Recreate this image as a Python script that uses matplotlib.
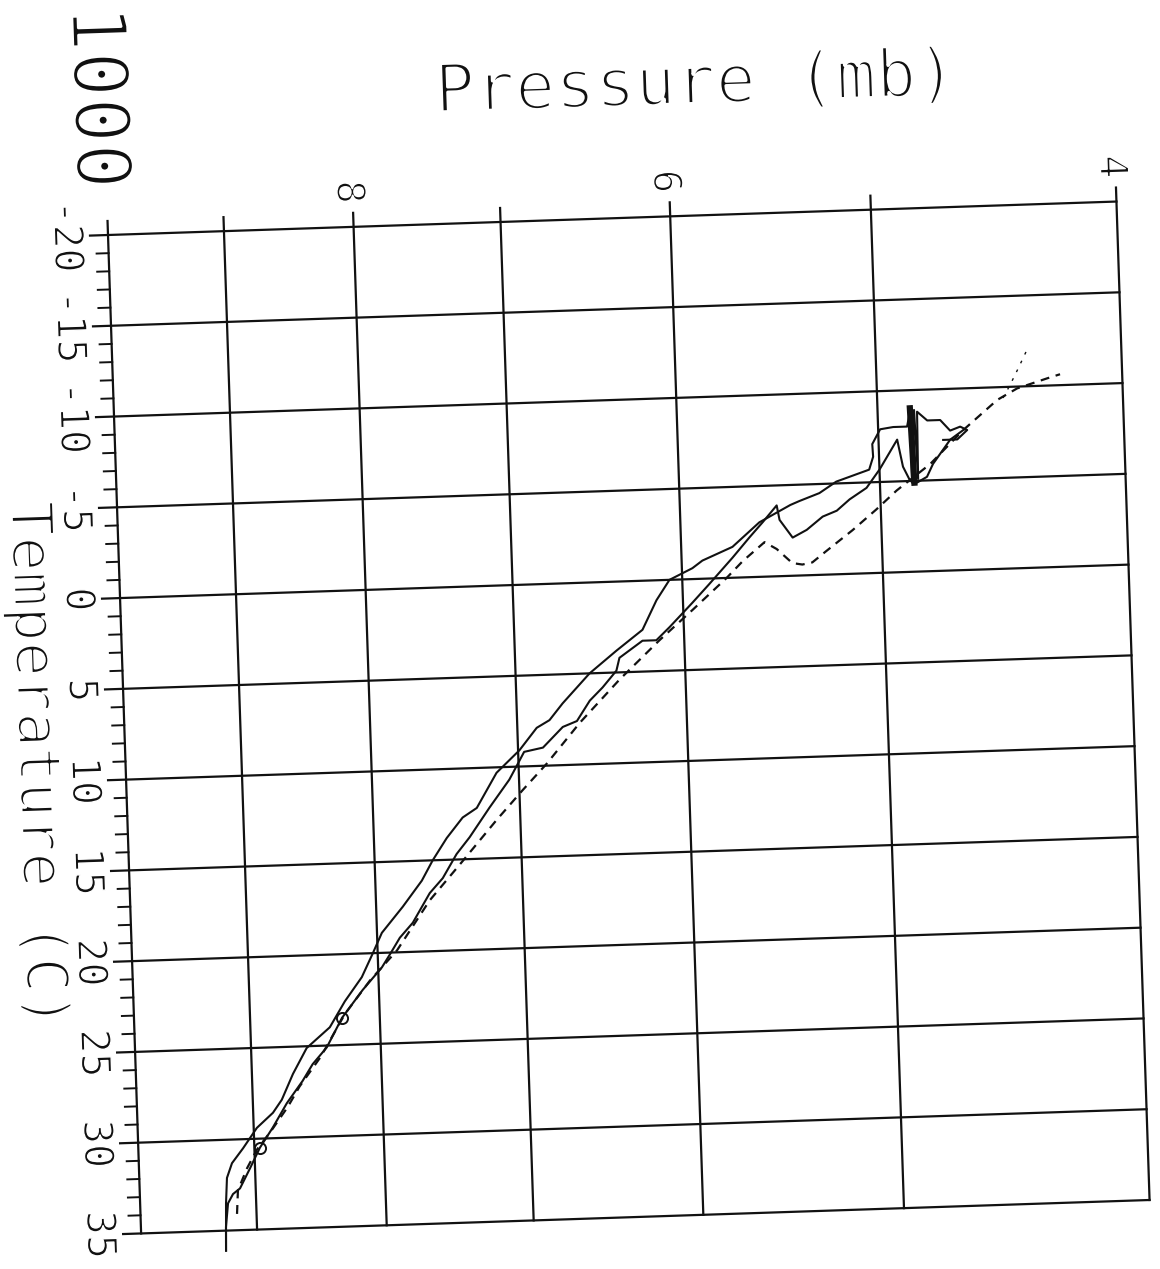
import matplotlib.pyplot as plt
from matplotlib import patheffects
from matplotlib.transforms import Affine2D, blended_transform_factory

# first sonde trace: pressure (mb), temperature (C)
sonde1_p = [926.3, 925.0, 923.5, 918.9, 909.3, 897.4, 884.0, 876.6, 867.1, 855.7,
            837.4, 825.4, 812.2, 803.5, 796.5, 780.9, 766.9, 758.9, 748.8, 737.6,
            728.0, 714.3, 699.1, 687.8, 679.7, 671.3, 654.5, 638.3, 623.0, 614.6,
            607.0, 594.3, 588.8, 572.7, 558.5, 542.7, 538.2, 528.4, 520.2, 504.7,
            502.7, 502.9, 499.1, 493.2, 487.0, 485.4, 485.6, 483.7, 482.9, 482.4,
            478.1, 472.5, 468.4, 464.1, 461.2, 465.5, 471.5]
sonde1_t = [36.1, 33.5, 32.1, 31.3, 30.5, 29.4, 28.6, 27.9, 26.5, 25.1,
            24.0, 22.6, 21.3, 20.0, 18.9, 17.5, 16.1, 15.0, 13.8, 12.7,
            12.2, 10.3, 9.1, 7.9, 7.5, 6.6, 5.0, 3.8, 2.7, 1.1,
            0.0, -0.6, -1.0, -1.7, -3.0, -3.9, -4.1, -4.5, -5.1, -5.7,
            -6.4, -7.1, -7.9, -8.0, -8.0, -8.9, -4.9, -8.9, -5.1, -8.8,
            -8.3, -8.3, -7.7, -7.9, -7.7, -7.2, -7.2]

# second sonde trace
sonde2_p = [926.3, 925.7, 923.3, 918.9, 912.9, 904.0, 895.5, 884.4, 872.7, 859.7,
            851.5, 840.2, 827.9, 811.8, 797.3, 791.2, 783.7, 774.2, 761.7, 752.4,
            742.5, 733.4, 719.6, 706.2, 699.5, 696.2, 684.3, 671.7, 663.0, 654.9,
            647.1, 638.7, 636.7, 623.2, 615.4, 607.8, 594.9, 585.5, 572.9, 563.7,
            556.8, 549.5, 548.3, 542.1, 535.1, 527.2, 520.4, 514.2, 506.2, 499.9,
            491.6, 489.4, 486.4, 483.4, 479.0, 476.2, 468.5, 462.9]
sonde2_t = [36.1, 34.8, 33.5, 33.0, 32.7, 31.6, 30.5, 29.4, 28.1, 26.9,
            26.0, 25.1, 23.5, 22.0, 20.8, 20.1, 19.2, 18.4, 16.8, 16.0,
            14.7, 13.8, 12.2, 10.7, 9.7, 9.2, 9.0, 7.9, 7.6, 6.5,
            5.8, 4.9, 4.2, 3.3, 3.3, 2.6, 1.3, 0.3, -1.1, -2.2,
            -3.0, -3.9, -3.1, -2.1, -2.5, -3.2, -3.5, -4.1, -4.7, -5.7,
            -7.3, -5.8, -5.0, -4.9, -5.2, -5.9, -7.2, -7.7]

# parcel curve (dashed)
parcel_p = [916.1, 914.7, 906.5, 898.0, 886.0, 872.0, 862.2, 845.0, 825.7, 806.3,
            786.1, 761.9, 738.6, 715.3, 697.9, 682.4, 661.3, 637.1, 613.6, 595.0,
            576.3, 567.6, 556.2, 550.2, 542.7, 537.8, 532.9, 526.0, 513.3, 502.0,
            492.6, 477.4, 462.9, 448.4, 440.2, 428.2, 423.2]
parcel_t = [34.1, 32.8, 31.6, 30.6, 29.6, 28.3, 27.2, 25.6, 23.3, 21.5,
            19.9, 17.2, 15.1, 12.9, 11.3, 9.9, 7.7, 5.4, 3.3, 1.7,
            0.0, -0.9, -1.9, -1.5, -0.7, -0.6, -0.7, -1.3, -2.4, -3.5,
            -4.5, -5.9, -7.7, -9.3, -9.9, -10.4, -10.6]

# faint branch near the top of the parcel curve
branch_p = [446.0, 443.0, 439.5, 435.8]
branch_t = [-9.4, -10.1, -11.0, -12.0]

# heavy scribble where sonde 1 stalls
blob_p = [485.5, 484.6]
blob_t = [-9.0, -4.9]

# small loops on sonde 2
loop_p = [827.9, 895.5]
loop_t = [23.5, 30.5]

p_grid = [1000, 900, 800, 700, 600, 500, 400]
p_label_pos = [1000, 800, 600, 400]
p_labels = ['1000', '8', '6', '4']
t_grid = [-20, -15, -10, -5, 0, 5, 10, 15, 20, 25, 30, 35]
t_labels = ['-20', '-15', '-10', '-5', '0', '5', '10', '15', '20', '25', '30', '35']

W, H = 1160, 1269
left, top, aw, ah = 108, 235, 1009, 999
tilt_deg = 1.9

fig = plt.figure(figsize=(W / 100, H / 100), dpi=100)
ax = fig.add_axes([left / W, (H - top - ah) / H, aw / W, ah / H])
ax.set_xscale('log')
ax.set_xlim(1000, 400)
ax.set_ylim(35, -20)
ax.axis('off')

# the whole sheet sits slightly skewed
tilt = Affine2D().rotate_deg_around(left, H - top, tilt_deg)
tr_data = ax.transData + tilt
tr_axes = ax.transAxes + tilt
tr_hline = blended_transform_factory(ax.transAxes, ax.transData) + tilt
tr_vline = blended_transform_factory(ax.transData, ax.transAxes) + tilt

ink = '#111111'
mono = 'DejaVu Sans Mono'


def pen(size, k=0.05):
    # thin the glyph strokes down to a plotter-pen look
    return [patheffects.Stroke(linewidth=size * k, foreground='white')]


# temperature grid lines, poking out past the left edge
for t in t_grid:
    ax.plot([-18 / aw, 1], [t, t], color=ink, lw=1.6, transform=tr_hline, clip_on=False)
# 1-degree minor ticks
for t in range(-20, 36):
    if t % 5:
        ax.plot([-12 / aw, 0], [t, t], color=ink, lw=1.4, transform=tr_hline, clip_on=False)
# pressure grid lines, poking out past the top edge
for p in p_grid:
    ax.plot([p, p], [0, 1 + 14 / ah], color=ink, lw=1.6, transform=tr_vline, clip_on=False)

for t, lab in zip(t_grid, t_labels):
    ax.text(-38 / aw, t, lab, transform=tr_hline, rotation=-90 + tilt_deg,
            rotation_mode='anchor', ha='center', va='center_baseline',
            fontsize=29, family=mono, color=ink, path_effects=pen(29, 0.035))

for p, lab in zip(p_label_pos, p_labels):
    size = 55 if lab == '1000' else 28
    y = 1.138 if lab == '1000' else 1.035
    ax.text(p, y, lab, transform=tr_vline, rotation=-90 + tilt_deg,
            rotation_mode='anchor', ha='center', va='center_baseline',
            fontsize=size, family=mono, color=ink, path_effects=pen(size, 0.04))

ax.text(0.587, 1.112, 'Pressure (mb)', transform=tr_axes, rotation=tilt_deg,
        rotation_mode='anchor', ha='center', va='baseline',
        fontsize=48, family=mono, color=ink, path_effects=pen(48))
ax.text(-0.105, 0.4725, 'Temperature (C)', transform=tr_axes, rotation=-90 + tilt_deg,
        rotation_mode='anchor', ha='center', va='baseline',
        fontsize=42, family=mono, color=ink, path_effects=pen(42))

# soundings
ax.plot(sonde1_p, sonde1_t, color=ink, lw=1.5, transform=tr_data, clip_on=False)
ax.plot(sonde2_p, sonde2_t, color=ink, lw=1.5, transform=tr_data, clip_on=False)
ax.plot(parcel_p, parcel_t, color=ink, lw=1.6, dashes=(4, 3), transform=tr_data, clip_on=False)
ax.plot(branch_p, branch_t, color=ink, lw=1.0, dashes=(2, 5), transform=tr_data, clip_on=False)
ax.plot(blob_p, blob_t, color=ink, lw=4.5, transform=tr_data, clip_on=False)
ax.plot(loop_p, loop_t, ls='none', marker='o', ms=8, mfc='none', mec=ink, mew=1.4,
        transform=tr_data, clip_on=False)

fig.savefig('out.png', dpi=100)
